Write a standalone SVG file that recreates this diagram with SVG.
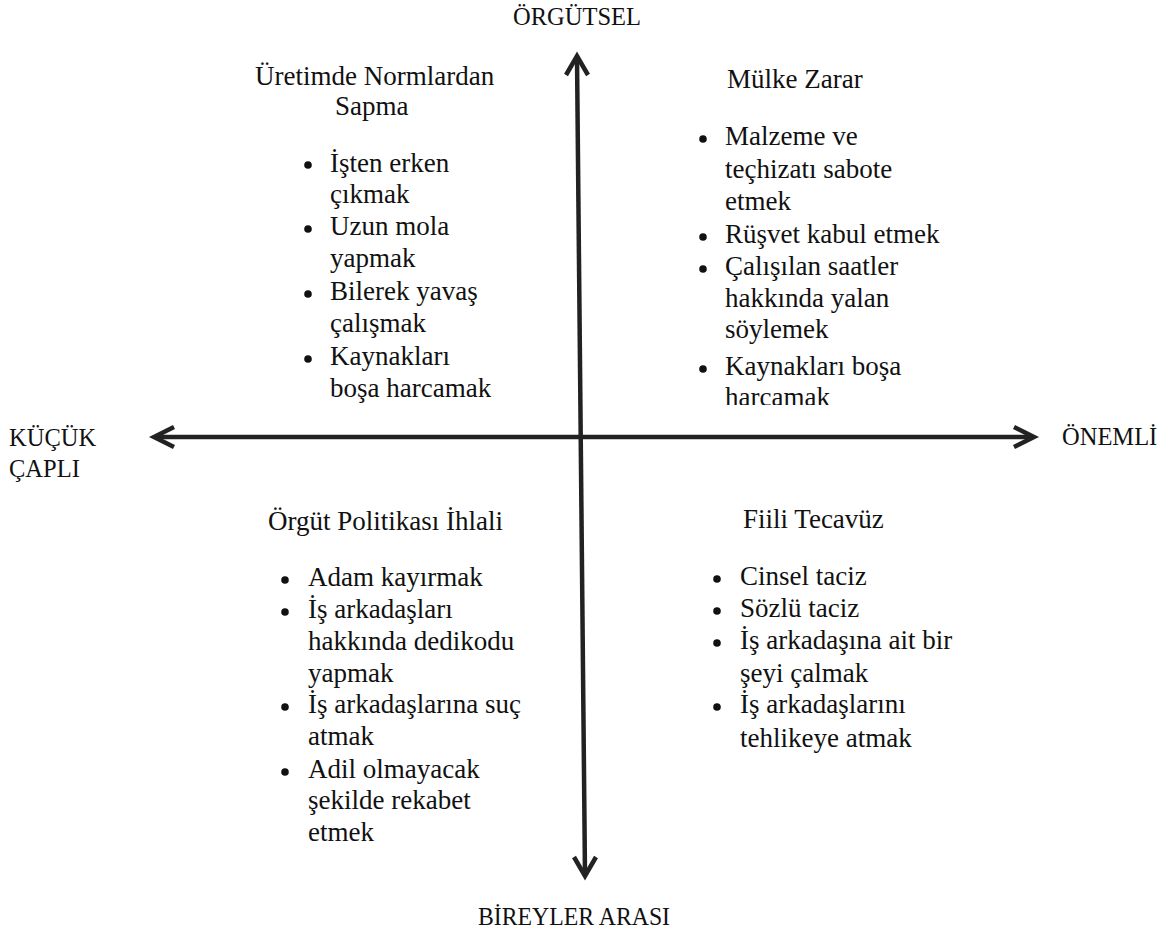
<svg xmlns="http://www.w3.org/2000/svg" width="1175" height="937" viewBox="0 0 1175 937">
<style>
.b{fill:#111}
.axis{stroke:#222;stroke-width:4.5;fill:none;stroke-linecap:butt;stroke-linejoin:miter}
</style>
<defs>
<clipPath id="clipTR"><rect x="680" y="60" width="300" height="345"/></clipPath>
</defs>
<rect width="1175" height="937" fill="#fff"/>
<g id="connectors">
<path class="axis" d="M577 57 L585 875"/>
<path class="axis" d="M566 75 L577 56 L588 75"/>
<path class="axis" d="M574 857 L585 876 L596 857"/>
<path class="axis" d="M155 437 L1033 437"/>
<path class="axis" d="M174 427 L154 437 L174 447"/>
<path class="axis" d="M1014 427 L1034 437 L1014 447"/>
</g>
<g id="label-top"><text font-family="Liberation Serif" font-size="24.5" fill="#111" x="513" y="25">ÖRGÜTSEL</text></g>
<g id="label-bottom"><text font-family="Liberation Serif" font-size="24.5" fill="#111" x="478" y="925" textLength="192" lengthAdjust="spacingAndGlyphs">BİREYLER ARASI</text></g>
<g id="label-left"><text font-family="Liberation Serif" font-size="24.5" fill="#111" x="9" y="446">KÜÇÜK</text><text font-family="Liberation Serif" font-size="24.5" fill="#111" x="9" y="477">ÇAPLI</text></g>
<g id="label-right"><text font-family="Liberation Serif" font-size="24.5" fill="#111" x="1062" y="445">ÖNEMLİ</text></g>
<g id="q-top-left">
<text font-family="Liberation Serif" font-size="27" fill="#111" x="255" y="85">Üretimde Normlardan</text>
<text font-family="Liberation Serif" font-size="27" fill="#111" x="335" y="115">Sapma</text>
<circle class="b" cx="308" cy="165" r="3.8"/>
<circle class="b" cx="308" cy="229" r="3.8"/>
<circle class="b" cx="308" cy="294" r="3.8"/>
<circle class="b" cx="308" cy="359" r="3.8"/>
<text font-family="Liberation Serif" font-size="27" fill="#111" x="330" y="172">İşten erken</text>
<text font-family="Liberation Serif" font-size="27" fill="#111" x="330" y="203">çıkmak</text>
<text font-family="Liberation Serif" font-size="27" fill="#111" x="330" y="235">Uzun mola</text>
<text font-family="Liberation Serif" font-size="27" fill="#111" x="330" y="267">yapmak</text>
<text font-family="Liberation Serif" font-size="27" fill="#111" x="330" y="300">Bilerek yavaş</text>
<text font-family="Liberation Serif" font-size="27" fill="#111" x="330" y="332">çalışmak</text>
<text font-family="Liberation Serif" font-size="27" fill="#111" x="330" y="365">Kaynakları</text>
<text font-family="Liberation Serif" font-size="27" fill="#111" x="330" y="397">boşa harcamak</text>
</g>
<g id="q-top-right">
<text font-family="Liberation Serif" font-size="27" fill="#111" x="727" y="88">Mülke Zarar</text>
<circle class="b" cx="703" cy="139" r="3.8"/>
<circle class="b" cx="703" cy="237" r="3.8"/>
<circle class="b" cx="703" cy="269" r="3.8"/>
<circle class="b" cx="703" cy="369" r="3.8"/>
<text font-family="Liberation Serif" font-size="27" fill="#111" x="725" y="145">Malzeme ve</text>
<text font-family="Liberation Serif" font-size="27" fill="#111" x="725" y="178">teçhizatı sabote</text>
<text font-family="Liberation Serif" font-size="27" fill="#111" x="725" y="210">etmek</text>
<text font-family="Liberation Serif" font-size="27" fill="#111" x="725" y="243">Rüşvet kabul etmek</text>
<text font-family="Liberation Serif" font-size="27" fill="#111" x="725" y="275">Çalışılan saatler</text>
<text font-family="Liberation Serif" font-size="27" fill="#111" x="725" y="307">hakkında yalan</text>
<text font-family="Liberation Serif" font-size="27" fill="#111" x="725" y="338">söylemek</text>
<text font-family="Liberation Serif" font-size="27" fill="#111" x="725" y="375">Kaynakları boşa</text>
<text font-family="Liberation Serif" font-size="27" fill="#111" x="725" y="406" clip-path="url(#clipTR)">harcamak</text>
</g>
<g id="q-bottom-left">
<text font-family="Liberation Serif" font-size="27" fill="#111" x="268" y="530">Örgüt Politikası İhlali</text>
<circle class="b" cx="285" cy="580" r="3.8"/>
<circle class="b" cx="285" cy="612" r="3.8"/>
<circle class="b" cx="285" cy="707" r="3.8"/>
<circle class="b" cx="285" cy="772" r="3.8"/>
<text font-family="Liberation Serif" font-size="27" fill="#111" x="308" y="586">Adam kayırmak</text>
<text font-family="Liberation Serif" font-size="27" fill="#111" x="308" y="618">İş arkadaşları</text>
<text font-family="Liberation Serif" font-size="27" fill="#111" x="308" y="650">hakkında dedikodu</text>
<text font-family="Liberation Serif" font-size="27" fill="#111" x="308" y="682">yapmak</text>
<text font-family="Liberation Serif" font-size="27" fill="#111" x="308" y="713">İş arkadaşlarına suç</text>
<text font-family="Liberation Serif" font-size="27" fill="#111" x="308" y="745">atmak</text>
<text font-family="Liberation Serif" font-size="27" fill="#111" x="308" y="778">Adil olmayacak</text>
<text font-family="Liberation Serif" font-size="27" fill="#111" x="308" y="809">şekilde rekabet</text>
<text font-family="Liberation Serif" font-size="27" fill="#111" x="308" y="841">etmek</text>
</g>
<g id="q-bottom-right">
<text font-family="Liberation Serif" font-size="27" fill="#111" x="743" y="528">Fiili Tecavüz</text>
<circle class="b" cx="717" cy="579" r="3.8"/>
<circle class="b" cx="717" cy="611" r="3.8"/>
<circle class="b" cx="717" cy="643" r="3.8"/>
<circle class="b" cx="717" cy="707" r="3.8"/>
<text font-family="Liberation Serif" font-size="27" fill="#111" x="740" y="585">Cinsel taciz</text>
<text font-family="Liberation Serif" font-size="27" fill="#111" x="740" y="617">Sözlü taciz</text>
<text font-family="Liberation Serif" font-size="27" fill="#111" x="740" y="649">İş arkadaşına ait bir</text>
<text font-family="Liberation Serif" font-size="27" fill="#111" x="740" y="682">şeyi çalmak</text>
<text font-family="Liberation Serif" font-size="27" fill="#111" x="740" y="713">İş arkadaşlarını</text>
<text font-family="Liberation Serif" font-size="27" fill="#111" x="740" y="747">tehlikeye atmak</text>
</g>
</svg>
